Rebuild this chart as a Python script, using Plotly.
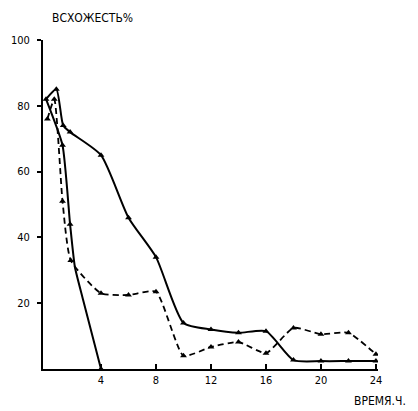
import plotly.graph_objects as go

# Series A (solid, upper curve)
a_x = [0, 0.75, 1.25, 1.75, 4, 6, 8, 10, 12, 14, 16, 18, 20, 22, 24]
a_y = [82, 85, 74, 72, 65, 46, 34, 14, 12, 11, 11.5, 2.7, 2.4, 2.4, 2.4]

# Series B (dashed)
b_x = [0.1, 0.6, 1.2, 1.8, 4, 6, 8, 10, 12, 14, 16, 18, 20, 22, 24]
b_y = [76, 82, 51, 33, 23, 22.5, 23.5, 4, 6.7, 8.2, 4.8, 12.5, 10.6, 11, 4.5]

# Series C (solid, steep drop)
c_x = [0, 1.2, 1.75, 2.1, 2.7, 4]
c_y = [82, 68, 44, 31, 21, 0]

x_ticks = [4, 8, 12, 16, 20, 24]
y_ticks = [20, 40, 60, 80, 100]

FONT = "DejaVu Sans Condensed"

fig = go.Figure()
fig.add_trace(go.Scatter(
    x=a_x, y=a_y, mode="lines+markers",
    line=dict(color="black", width=2, shape="spline", smoothing=0.6),
    marker=dict(symbol="triangle-up", size=6, color="black"),
))
fig.add_trace(go.Scatter(
    x=b_x, y=b_y, mode="lines+markers",
    line=dict(color="black", width=1.8, dash="6px,4px", shape="spline", smoothing=0.5),
    marker=dict(symbol="triangle-up", size=6, color="black"),
))
fig.add_trace(go.Scatter(
    x=c_x, y=c_y, mode="lines",
    line=dict(color="black", width=2, shape="spline", smoothing=0.5),
))
fig.add_trace(go.Scatter(
    x=c_x[1:3] + c_x[-1:], y=c_y[1:3] + c_y[-1:], mode="markers",
    marker=dict(symbol="triangle-up", size=6, color="black"),
))

fig.update_layout(
    width=410, height=403,
    margin=dict(l=35, r=40, t=32, b=42),
    paper_bgcolor="white", plot_bgcolor="white",
    showlegend=False,
    font=dict(family=FONT, color="black", size=11),
    xaxis=dict(
        range=[-0.22, 24.15], tickvals=x_ticks, ticktext=[str(v) for v in x_ticks],
        showgrid=False, zeroline=False, showline=True, linecolor="black", linewidth=2,
        ticks="inside", ticklen=5, tickwidth=1.5, tickcolor="black",
        automargin=False,
        tickfont=dict(family=FONT, size=11, color="black"),
    ),
    yaxis=dict(
        range=[0, 100], tickvals=y_ticks, ticktext=[str(v) for v in y_ticks],
        showgrid=False, zeroline=False, showline=True, linecolor="black", linewidth=2,
        ticks="outside", ticklen=4, tickwidth=1.5, tickcolor="black",
        ticklabelstandoff=5, automargin=False,
        tickfont=dict(family=FONT, size=11, color="black"),
    ),
    annotations=[
        dict(text="ВСХОЖЕСТЬ%", xref="paper", yref="paper", x=0.02, y=1.0,
             yshift=22, xanchor="left", yanchor="middle", showarrow=False,
             font=dict(family=FONT, size=12, color="black")),
        dict(text="ВРЕМЯ.Ч.", xref="paper", yref="paper", x=1.0, y=0,
             xshift=30, yshift=-32, xanchor="right", yanchor="middle", showarrow=False,
             font=dict(family=FONT, size=12, color="black")),
    ],
)

fig.write_html("out.html")
